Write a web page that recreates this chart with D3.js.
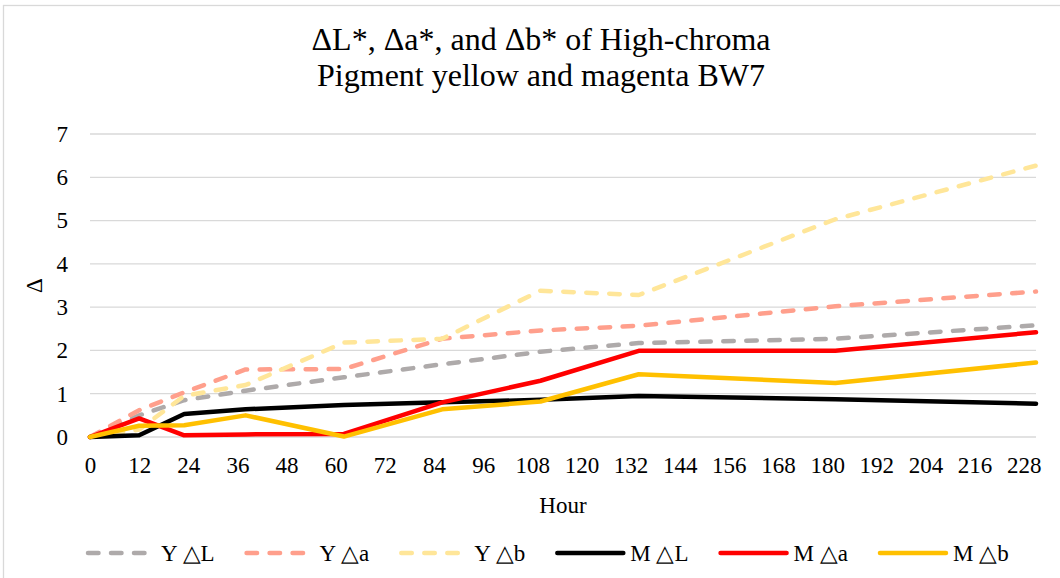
<!DOCTYPE html>
<html>
<head>
<meta charset="utf-8">
<script src="https://cdn.jsdelivr.net/npm/d3@7"></script>
<style>
  body { margin: 0; background: #fff; }
  text { font-family: "Liberation Serif", "Times New Roman", serif; fill: #000; }
</style>
</head>
<body>
<div id="d3container"></div>
<script>
// hours at which samples were measured
var hours = [0, 12, 23, 38, 62, 86, 110, 134, 182, 231];
var xTicks = d3.range(0, 229, 12);
var yTicks = [0, 1, 2, 3, 4, 5, 6, 7];

var seriesNames = ['Y \u25B3L', 'Y \u25B3a', 'Y \u25B3b', 'M \u25B3L', 'M \u25B3a', 'M \u25B3b'];
var yL = [0, 0.50, 0.85, 1.07, 1.38, 1.68, 1.97, 2.17, 2.27, 2.58];
var yA = [0, 0.62, 1.03, 1.56, 1.57, 2.27, 2.46, 2.57, 3.02, 3.36];
var yB = [0, 0.17, 0.95, 1.20, 2.18, 2.27, 3.38, 3.28, 5.03, 6.27];
var mL = [0, 0.04, 0.53, 0.64, 0.74, 0.80, 0.86, 0.95, 0.87, 0.77];
var mA = [0, 0.43, 0.04, 0.06, 0.07, 0.80, 1.30, 1.99, 1.99, 2.42];
var mB = [0, 0.26, 0.27, 0.50, 0.01, 0.64, 0.82, 1.45, 1.25, 1.72];
var seriesValues = [yL, yA, yB, mL, mA, mB];

var colors = ['#aeaaaa', '#ff9f8c', '#ffe699', '#000000', '#ff0000', '#ffc000'];
var dashed = [true, true, true, false, false, false];
var serif = '"Liberation Serif", "Times New Roman", serif';

var width = 1060, height = 578;
var margin = {left: 90, right: 24, top: 134, bottom: 141};
var plotW = width - margin.left - margin.right;
var plotH = height - margin.top - margin.bottom;

var x = d3.scaleLinear().domain([0, 231]).range([0, plotW]);
var y = d3.scaleLinear().domain([0, 7]).range([plotH, 0]);

var svg = d3.select('#d3container')
    .append('svg')
    .attr('width', width)
    .attr('height', height);

// chart border
svg.append('rect')
    .attr('x', 3.5).attr('y', 5.5)
    .attr('width', width + 10).attr('height', height + 10)
    .attr('fill', 'none')
    .attr('stroke', '#d9d9d9')
    .attr('stroke-width', 1.3);

svg.append('text')
    .attr('x', 541).attr('y', 50)
    .attr('text-anchor', 'middle')
    .style('font-size', '32px')
    .text('\u0394L*, \u0394a*, and \u0394b* of High-chroma');
svg.append('text')
    .attr('x', 541).attr('y', 86)
    .attr('text-anchor', 'middle')
    .style('font-size', '32px')
    .text('Pigment yellow and magenta BW7');

var chartGroup = svg.append('g')
    .attr('transform', 'translate(' + margin.left + ',' + margin.top + ')');

// gridlines
chartGroup.append('g')
    .selectAll('line')
    .data(yTicks)
    .enter().append('line')
    .attr('x1', 0).attr('x2', plotW)
    .attr('y1', function (d) { return y(d); })
    .attr('y2', function (d) { return y(d); })
    .attr('stroke', '#d9d9d9')
    .attr('stroke-width', 1.3);

var yAxis = d3.axisLeft(y).tickValues(yTicks).tickFormat(d3.format('d')).tickSize(0).tickPadding(22);
var xAxis = d3.axisBottom(x).tickValues(xTicks).tickFormat(d3.format('d')).tickSize(0).tickPadding(20);

var gy = chartGroup.append('g').attr('class', 'y axis').call(yAxis);
gy.attr('font-family', null).attr('font-size', null);
gy.select('.domain').remove();
gy.selectAll('text').style('font-size', '23px').style('font-family', serif);

var gx = chartGroup.append('g')
    .attr('class', 'x axis')
    .attr('transform', 'translate(0,' + plotH + ')')
    .call(xAxis);
gx.attr('font-family', null).attr('font-size', null);
gx.select('.domain').remove();
gx.selectAll('text').style('font-size', '23px').style('font-family', serif).attr('dy', '0.71em');

var line = d3.line()
    .x(function (d, i) { return x(hours[i]); })
    .y(function (d) { return y(d); });

seriesValues.forEach(function (vals, k) {
    chartGroup.append('path')
        .attr('d', line(vals))
        .attr('fill', 'none')
        .attr('stroke', colors[k])
        .attr('stroke-width', 4.5)
        .attr('stroke-linejoin', 'round')
        .attr('stroke-linecap', 'round')
        .attr('stroke-dasharray', dashed[k] ? '10.5,12.5' : null);
});

// axis titles
svg.append('text')
    .attr('x', margin.left + plotW / 2).attr('y', 513)
    .attr('text-anchor', 'middle')
    .style('font-size', '23px')
    .text('Hour');
svg.append('text')
    .attr('transform', 'translate(42,' + (margin.top + plotH / 2) + ') rotate(-90)')
    .attr('text-anchor', 'middle')
    .style('font-size', '23px')
    .text('\u0394');

// legend
var legend = svg.append('g');
var lx = 86;
seriesNames.forEach(function (name, k) {
    var g = legend.append('g').attr('transform', 'translate(' + lx + ',553)');
    g.append('line')
        .attr('x1', 2).attr('x2', dashed[k] ? 70 : 68)
        .attr('stroke', colors[k])
        .attr('stroke-width', 4.5)
        .attr('stroke-linecap', 'round')
        .attr('stroke-dasharray', dashed[k] ? '10.5,12.5' : null);
    var t = g.append('text')
        .attr('x', 75).attr('y', 8)
        .style('font-size', '23px')
        .text(name);
    lx += 75 + t.node().getComputedTextLength() + 30;
});
</script>
</body>
</html>
